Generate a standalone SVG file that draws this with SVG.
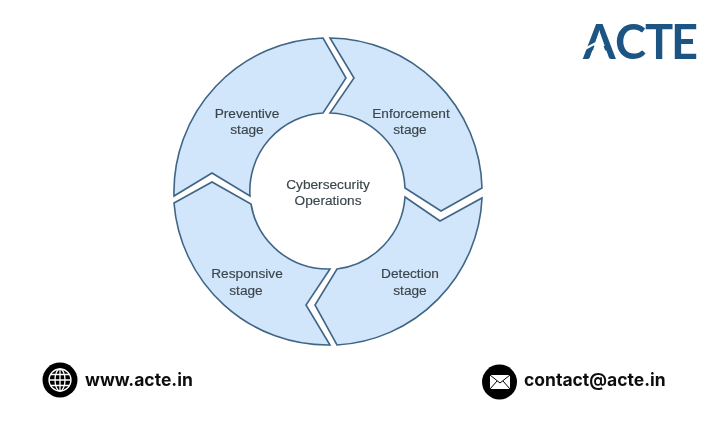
<svg xmlns="http://www.w3.org/2000/svg" width="719" height="423" viewBox="0 0 719 423">
  <defs>
    <filter id="soft" x="-5%" y="-5%" width="110%" height="110%"><feGaussianBlur stdDeviation="0.4"/></filter>
  </defs>
  <style>
    .seg { fill: #d2e6fb; stroke: #3f6585; stroke-width: 1.6; stroke-linejoin: miter; }
    .lbl { font-family: "Liberation Sans", Arial, sans-serif; font-size: 13.7px; fill: #3a444b; stroke: #3a444b; stroke-width: 0.15; text-anchor: middle; }
    .foot { font-family: "Inter", "Open Sans", sans-serif; font-weight: 700; font-size: 17.5px; fill: #111; }
    .icon { fill: none; stroke: #fff; stroke-width: 1.3; }
  </style>
  <rect width="719" height="423" fill="#ffffff"/>
  <g id="connectors"></g>
  <g filter="url(#soft)">
    <g id="preventive">
      <path class="seg" d="M323 38 A154 154 0 0 0 174 196 L212 173 L250 196 A78 78 0 0 1 323 113 L346 78 Z"/>
      <text class="lbl" x="247" y="118">Preventive</text>
      <text class="lbl" x="247" y="134">stage</text>
    </g>
    <g id="enforcement">
      <path class="seg" d="M330 38 A154 154 0 0 1 482 188 L441 211 L405 188 A78 78 0 0 0 330 113 L354 78 Z"/>
      <text class="lbl" x="411" y="118">Enforcement</text>
      <text class="lbl" x="410" y="134">stage</text>
    </g>
    <g id="detection">
      <path class="seg" d="M405 197 L440 221 L482 198 A154 154 0 0 1 337 345 L315 305 L337 269 A78 78 0 0 0 405 197 Z"/>
      <text class="lbl" x="410" y="278">Detection</text>
      <text class="lbl" x="410" y="295">stage</text>
    </g>
    <g id="responsive">
      <path class="seg" d="M174 203 L212 182 L251 204 A78 78 0 0 0 330 269 L306 305 L330 345 A154 154 0 0 1 174 203 Z"/>
      <text class="lbl" x="247" y="278">Responsive</text>
      <text class="lbl" x="246" y="295">stage</text>
    </g>
    <g id="center">
      <text class="lbl" x="328" y="189">Cybersecurity</text>
      <text class="lbl" x="328" y="205">Operations</text>
    </g>
    <g id="logo">
      <text y="59" x="583 615 645 671" font-family="Lato, 'Liberation Sans', sans-serif" font-weight="700" font-size="47px" fill="#1b5583">ACTE</text>
      <path d="M599 33 L589.500 60 H608.500 Z" fill="#fff"/>
      <path d="M583 50 L596 43" stroke="#fff" stroke-width="2" fill="none"/>
    </g>
    <g id="web">
      <circle cx="60" cy="380" r="17.5" fill="#000"/>
      <circle class="icon" cx="60" cy="380" r="11"/>
      <ellipse class="icon" cx="60" cy="380" rx="5" ry="11"/>
      <path class="icon" d="M60 369 V391 M49 380 H71 M50.500 374.500 H69.500 M50.500 385.500 H69.500"/>
      <text class="foot" x="85" y="386">www.acte.in</text>
    </g>
    <g id="mail">
      <circle cx="499.500" cy="382" r="17.500" fill="#000"/>
      <rect x="490" y="375" width="20" height="14" fill="#fff"/>
      <path d="M490 375 L500 383 L510 375 M490 389 L497 381 M510 389 L503 381" fill="none" stroke="#000" stroke-width="1"/>
      <text class="foot" x="524" y="386">contact@acte.in</text>
    </g>
  </g>
</svg>
